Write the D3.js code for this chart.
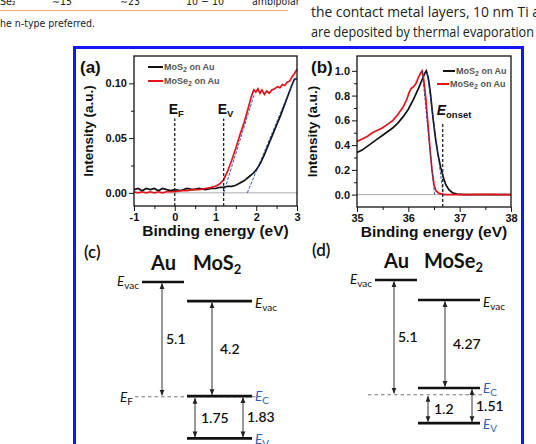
<!DOCTYPE html>
<html><head>
<meta charset="utf-8">
<title>XPS / UPS band alignment</title>
<script src="https://d3js.org/d3.v7.min.js"></script>
<style>
  body { margin: 0; background: #fff; }
  svg { display: block; }
  .tick text { font-family: "Liberation Sans", Arial, sans-serif; font-weight: bold; font-size: 11px; fill: #111; }
  .tick line { stroke: #111; }
  .axtitle { font-family: "Liberation Sans", Arial, sans-serif; font-weight: bold; fill: #111; }
  .legend { font-family: "Liberation Sans", Arial, sans-serif; font-weight: bold; font-size: 9px; fill: #555; }
  .diag { font-family: Lato, "Open Sans", sans-serif; fill: #111; }
</style>
</head>
<body>
<svg id="fig" width="536" height="444"></svg>

<script>
// ---------- data ----------

// page text around the figure
const tableRow = ["Se\u2082", "\u223C15", "\u223C23", "10 \u2212 10", "ambipolar"];
const footnote = "he n-type preferred.";
const bodyLines = ["the contact metal layers, 10 nm Ti a", "are deposited by thermal evaporation"];

// panel (a): valence band edge, binding energy (eV) vs intensity
const aXTicks = [-1, 0, 1, 2, 3];
const aYTicks = [0, 0.05, 0.10];
const aMoS2 = [[-1,0.003],[-0.9,0.004],[-0.8,0.002],[-0.7,0.004],[-0.6,0.003],[-0.5,0.004],[-0.4,0.002],[-0.3,0.004],
  [-0.2,0.003],[-0.1,0.002],[0,0.003],[0.15,0.002],[0.3,0.004],[0.45,0.003],[0.6,0.004],[0.75,0.003],[0.9,0.004],
  [1.0,0.004],[1.1,0.005],[1.2,0.005],[1.3,0.006],[1.4,0.006],[1.5,0.007],[1.6,0.009],[1.7,0.011],[1.8,0.014],
  [1.9,0.017],[2.0,0.021],[2.1,0.027],[2.2,0.035],[2.3,0.044],[2.4,0.053],[2.5,0.062],[2.6,0.071],[2.7,0.081],
  [2.8,0.091],[2.88,0.099],[2.94,0.104],[3.0,0.104]];
const aMoSe2 = [[-1,0.001],[-0.9,0.0],[-0.8,0.001],[-0.7,0.0],[-0.6,0.001],[-0.5,0.0],[-0.4,0.001],[-0.3,0.0],
  [-0.2,0.001],[-0.1,0.001],[0,0.001],[0.15,0.002],[0.3,0.002],[0.45,0.003],[0.6,0.003],[0.75,0.004],[0.9,0.005],
  [1.0,0.006],[1.1,0.008],[1.2,0.012],[1.3,0.02],[1.4,0.03],[1.5,0.041],[1.6,0.053],[1.7,0.064],[1.8,0.077],
  [1.88,0.088],[1.94,0.094],[1.99,0.092],[2.04,0.095],[2.09,0.091],[2.14,0.094],[2.2,0.09],[2.26,0.093],
  [2.32,0.091],[2.38,0.094],[2.45,0.095],[2.52,0.097],[2.58,0.096],[2.64,0.099],[2.7,0.098],[2.76,0.101],
  [2.82,0.102],[2.88,0.106],[2.94,0.109],[3.0,0.113]];
const aTangents = [[[1.2,0],[1.95,0.09]], [[1.78,0],[2.96,0.106]]];
const aMarkers = [{name:"E", sub:"F", x:0}, {name:"E", sub:"V", x:1.2}];

// panel (b): secondary electron cutoff
const bXTicks = [35, 36, 37, 38];
const bYTicks = [0, 0.2, 0.4, 0.6, 0.8, 1.0];
const bMoS2 = [[35,0.34],[35.1,0.36],[35.2,0.39],[35.3,0.42],[35.4,0.45],[35.5,0.48],[35.6,0.51],[35.7,0.54],
  [35.8,0.58],[35.9,0.63],[36.0,0.69],[36.1,0.77],[36.2,0.86],[36.27,0.93],[36.32,0.98],[36.35,1.0],[36.39,0.94],
  [36.43,0.82],[36.48,0.62],[36.53,0.45],[36.58,0.32],[36.63,0.22],[36.68,0.14],[36.73,0.08],[36.79,0.04],
  [36.86,0.015],[36.95,0.004],[37.1,0.0],[37.5,0.0],[38,0.0]];
const bMoSe2 = [[35,0.43],[35.1,0.45],[35.2,0.47],[35.3,0.5],[35.4,0.52],[35.5,0.54],[35.6,0.57],[35.7,0.6],
  [35.8,0.65],[35.9,0.71],[35.97,0.77],[36.02,0.83],[36.06,0.86],[36.1,0.87],[36.15,0.9],[36.2,0.95],[36.25,0.99],
  [36.27,1.0],[36.3,0.93],[36.34,0.78],[36.38,0.58],[36.42,0.38],[36.46,0.2],[36.5,0.08],[36.54,0.03],[36.6,0.01],
  [36.7,0.0],[37,0.0],[37.5,0.002],[38,0.0]];
const bTangents = [[[36.27,1.0],[36.51,0]], [[36.37,0.98],[36.68,0]]];
const bOnset = 36.67;

// panels (c), (d): band diagrams, level energies in eV (Au vacuum level = 0)
const cLevels = [0, -0.85, -5.1, -5.07, -6.95];   // Au Evac, MoS2 Evac, EF, EC, EV
const cValues = ["5.1", "4.2", "1.75", "1.83"];
const dLevels = [0, -0.89, -5.1, -4.8, -6.36];    // Au Evac, MoSe2 Evac, EF, EC, EV
const dValues = ["5.1", "4.27", "1.2", "1.51"];

// ---------- drawing ----------
const svg = d3.select("#fig");
const red = "#e4131b", black = "#111";

// surrounding page text
const page = svg.append("g").attr("fill", "#222");
const colX = [0, 52, 120, 186, 252];
page.selectAll("text.cell").data(tableRow).join("text")
  .attr("class", "cell")
  .attr("x", (d, i) => colX[i]).attr("y", 5)
  .style("font", "10.5px 'DejaVu Sans Condensed', 'Liberation Sans', sans-serif")
  .text(d => d);
page.append("line").attr("x1", 0).attr("x2", 288).attr("y1", 10.5).attr("y2", 10.5)
  .attr("stroke", "#f2ad70").attr("stroke-width", 1.2);
page.append("text").attr("x", 0).attr("y", 27)
  .style("font", "10.5px 'DejaVu Sans Condensed', 'Liberation Sans', sans-serif")
  .text(footnote);
page.selectAll("text.body").data(bodyLines).join("text")
  .attr("class", "body")
  .attr("x", 311).attr("y", (d, i) => 17 + i * 20)
  .attr("textLength", (d, i) => i === 0 ? 229 : 223)
  .attr("lengthAdjust", "spacingAndGlyphs")
  .style("font", "15px 'Open Sans', sans-serif")
  .text(d => d);

// blue figure frame
svg.append("rect").attr("x", 74.5).attr("y", 47.5).attr("width", 448).attr("height", 420)
  .attr("fill", "none").attr("stroke", "#1515f5").attr("stroke-width", 3);

// subscript helper
function subText(sel, main, sub, subSize) {
  sel.append("tspan").text(main);
  sel.append("tspan").attr("dy", 3).style("font-size", subSize + "px").text(sub);
  return sel;
}

// XPS style panel
function xpsPanel(o) {
  const g = svg.append("g");
  const x = d3.scaleLinear().domain(o.xDom).range([o.left, o.right]);
  const y = d3.scaleLinear().domain(o.yDom).range([o.bottom, o.top]);

  // minor ticks
  g.append("g").attr("transform", `translate(0,${o.bottom})`)
    .call(d3.axisBottom(x).tickValues(o.xMinor).tickSize(3).tickFormat(""))
    .call(a => a.select(".domain").remove());
  g.append("g").attr("transform", `translate(${o.left},0)`)
    .call(d3.axisLeft(y).tickValues(o.yMinor).tickSize(3).tickFormat(""))
    .call(a => a.select(".domain").remove());
  // major ticks
  g.append("g").attr("transform", `translate(0,${o.bottom})`)
    .call(d3.axisBottom(x).tickValues(o.xTicks).tickSize(5).tickPadding(2).tickFormat(d => String(d)))
    .call(a => a.select(".domain").remove());
  g.append("g").attr("transform", `translate(${o.left},0)`)
    .call(d3.axisLeft(y).tickValues(o.yTicks).tickSize(5).tickPadding(2).tickFormat(d3.format(o.yFmt)))
    .call(a => a.select(".domain").remove());

  // zero line
  g.append("line").attr("x1", o.left).attr("x2", o.right).attr("y1", y(0)).attr("y2", y(0))
    .attr("stroke", "#aaa").attr("stroke-width", 1);

  const line = d3.line().x(d => x(d[0])).y(d => y(d[1]));
  g.append("path").datum(o.black).attr("d", line).attr("fill", "none").attr("stroke", black).attr("stroke-width", 1.7);
  g.append("path").datum(o.red).attr("d", line).attr("fill", "none").attr("stroke", red).attr("stroke-width", 1.7);
  g.selectAll("path.tan").data(o.tangents).join("path").attr("class", "tan")
    .attr("d", line).attr("fill", "none").attr("stroke", "#1d3aa8").attr("stroke-width", 1)
    .attr("stroke-dasharray", "3,1.5").attr("opacity", 0.85);

  // frame
  g.append("rect").attr("x", o.left).attr("y", o.top)
    .attr("width", o.right - o.left).attr("height", o.bottom - o.top)
    .attr("fill", "none").attr("stroke", black).attr("stroke-width", 1.3);

  // titles
  g.append("text").attr("class", "axtitle").attr("x", (o.left + o.right) / 2).attr("y", o.bottom + 30)
    .attr("text-anchor", "middle").style("font-size", "15.5px").text("Binding energy (eV)");
  g.append("text").attr("class", "axtitle")
    .attr("transform", `translate(${o.ytX},${(o.top + o.bottom) / 2}) rotate(-90)`)
    .attr("text-anchor", "middle").style("font-size", "13.5px").text("Intensity (a.u.)");
  g.append("text").attr("class", "axtitle").attr("x", o.tagX).attr("y", 73)
    .style("font-size", "17px").text(o.tag);

  // legend
  const names = [["MoS", "2", " on Au", black], ["MoSe", "2", " on Au", red]];
  names.forEach((n, i) => {
    const ly = o.legY[i];
    g.append("line").attr("x1", o.legX[i][0]).attr("x2", o.legX[i][1]).attr("y1", ly).attr("y2", ly)
      .attr("stroke", n[3]).attr("stroke-width", 2);
    const t = g.append("text").attr("class", "legend").attr("x", o.legX[i][1] + 1).attr("y", ly + 3);
    t.append("tspan").text(n[0]);
    t.append("tspan").attr("dy", 2).style("font-size", "7px").text(n[1]);
    t.append("tspan").attr("dy", -2).text(n[2]);
  });
  return { g, x, y };
}

// (a)
const pa = xpsPanel({
  xDom: [-1, 3], yDom: [-0.012, 0.125], left: 134, right: 297, top: 56, bottom: 206,
  xTicks: aXTicks, yTicks: aYTicks, xMinor: [-0.5, 0.5, 1.5, 2.5], yMinor: [0.025, 0.075],
  yFmt: ".2f", black: aMoS2, red: aMoSe2, tangents: aTangents, ytX: 93, tag: "(a)", tagX: 80,
  legY: [67, 81], legX: [[148, 163], [148, 163]]
});
aMarkers.forEach(m => {
  pa.g.append("line").attr("x1", pa.x(m.x)).attr("x2", pa.x(m.x)).attr("y1", 206).attr("y2", pa.y(0.068))
    .attr("stroke", "#222").attr("stroke-width", 1.3).attr("stroke-dasharray", "3,2");
  const t = pa.g.append("text").attr("class", "axtitle").attr("x", pa.x(m.x) - 6).attr("y", pa.y(0.072))
    .style("font-size", "14px");
  subText(t, m.name, m.sub, 9.5);
});

// (b)
const pb = xpsPanel({
  xDom: [35, 38], yDom: [-0.1, 1.12], left: 357, right: 511, top: 56, bottom: 207,
  xTicks: bXTicks, yTicks: bYTicks, xMinor: [35.5, 36.5, 37.5], yMinor: [0.1, 0.3, 0.5, 0.7, 0.9],
  yFmt: ".1f", black: bMoS2, red: bMoSe2, tangents: bTangents, ytX: 317, tag: "(b)", tagX: 311,
  legY: [71, 84], legX: [[443, 455], [437, 449]]
});
pb.g.append("line").attr("x1", pb.x(bOnset)).attr("x2", pb.x(bOnset)).attr("y1", 207).attr("y2", pb.y(0.58))
  .attr("stroke", "#222").attr("stroke-width", 1.3).attr("stroke-dasharray", "3,2");
{
  const t = pb.g.append("text").attr("class", "axtitle").attr("x", pb.x(bOnset) - 6).attr("y", pb.y(0.64))
    .style("font-size", "14px");
  t.append("tspan").style("font-style", "italic").text("E");
  t.append("tspan").attr("dy", 3).style("font-size", "9.5px").text("onset");
}

// band diagrams
const defs = svg.append("defs");
defs.append("marker").attr("id", "ah").attr("viewBox", "0 0 10 10").attr("refX", 9).attr("refY", 5)
  .attr("markerWidth", 6).attr("markerHeight", 6).attr("markerUnits", "userSpaceOnUse")
  .attr("orient", "auto-start-reverse")
  .append("path").attr("d", "M0,1 L10,5 L0,9 Z").attr("fill", "#222");

function ELabel(g, x, y, sub, color, anchor) {
  const t = g.append("text").attr("class", "diag").attr("x", x).attr("y", y)
    .attr("text-anchor", anchor || "start").style("fill", color || "#111").style("font-size", "13.5px");
  t.append("tspan").style("font-style", "italic").text("E");
  t.append("tspan").attr("dy", 3).style("font-size", "10px").text(sub);
}

function bandDiagram(o) {
  const g = svg.append("g");
  const ey = d3.scaleLinear().domain([0, -7]).range([o.top, o.top + 7 * 22.5]);
  const [auVac, scVac, ef, ec, ev] = o.levels;
  const blue = "#2f5fb0";

  g.append("text").attr("class", "diag").attr("x", o.tagX).attr("y", o.top - 24)
    .style("font-size", "17px").style("font-weight", 600).text(o.tag);
  g.append("text").attr("class", "diag").attr("x", o.au[0] + 9).attr("y", o.top - 12)
    .style("font-size", "20px").style("font-weight", "bold").text("Au");
  const h = g.append("text").attr("class", "diag").attr("x", o.sc[0] + 6).attr("y", o.top - 12)
    .style("font-size", "20px").style("font-weight", "bold");
  h.append("tspan").text(o.name);
  h.append("tspan").attr("dy", 4).style("font-size", "13px").text("2");

  // E_F dashed
  g.append("line").attr("x1", o.au[0] - 7).attr("x2", o.sc[1] + 4).attr("y1", ey(ef)).attr("y2", ey(ef))
    .attr("stroke", "#777").attr("stroke-width", 1).attr("stroke-dasharray", "3.5,3");

  const bars = [[o.au, auVac], [o.sc, scVac], [o.sc, ec], [o.sc, ev]];
  g.selectAll("line.lev").data(bars).join("line").attr("class", "lev")
    .attr("x1", d => d[0][0]).attr("x2", d => d[0][1]).attr("y1", d => ey(d[1])).attr("y2", d => ey(d[1]))
    .attr("stroke", "#111").attr("stroke-width", 2.6);

  // arrows: Au work function, electron affinity, EF-EV, gap
  const arrows = [[o.ax[0], auVac, ef], [o.ax[1], scVac, ec], [o.ax[2], ef, ev], [o.ax[3], ec, ev]];
  g.selectAll("line.arr").data(arrows).join("line").attr("class", "arr")
    .attr("x1", d => d[0]).attr("x2", d => d[0]).attr("y1", d => ey(d[1]) + 1.5).attr("y2", d => ey(d[2]) - 1.5)
    .attr("stroke", "#333").attr("stroke-width", 1)
    .attr("marker-start", "url(#ah)").attr("marker-end", "url(#ah)");

  // value labels, centred on their arrows
  const lab = [[o.ax[0] + 4, (auVac + ef) / 2], [o.ax[1] + 8, (scVac + ec) / 2],
               [o.ax[2] + 6, (ef + ev) / 2], [o.ax[3] + 4, (ec + ev) / 2]];
  g.selectAll("text.val").data(o.values).join("text").attr("class", "diag val")
    .attr("x", (d, i) => lab[i][0]).attr("y", (d, i) => ey(lab[i][1]) + 5)
    .style("font-size", "14px").style("font-weight", 600).text(d => d);

  ELabel(g, o.au[0] - 3, ey(auVac) + 4, "vac", "#111", "end");
  ELabel(g, o.sc[1] + 3, ey(scVac) + 7, "vac", "#111");
  if (o.efLabel) ELabel(g, o.au[0] - 9, ey(ef) + 5, "F", "#111", "end");
  ELabel(g, o.sc[1] + 3, ey(ec) + 5, "C", blue);
  ELabel(g, o.sc[1] + 3, ey(ev) + 6, "V", blue);
}

bandDiagram({ tag: "(c)", tagX: 84, top: 282, name: "MoS", levels: cLevels, values: cValues,
  au: [142, 184], sc: [187, 252], ax: [162, 212, 195, 243], efLabel: true });
bandDiagram({ tag: "(d)", tagX: 312, top: 280, name: "MoSe", levels: dLevels, values: dValues,
  au: [375, 417], sc: [418, 480], ax: [394, 445, 428, 472], efLabel: false });
</script>
</body>
</html>
